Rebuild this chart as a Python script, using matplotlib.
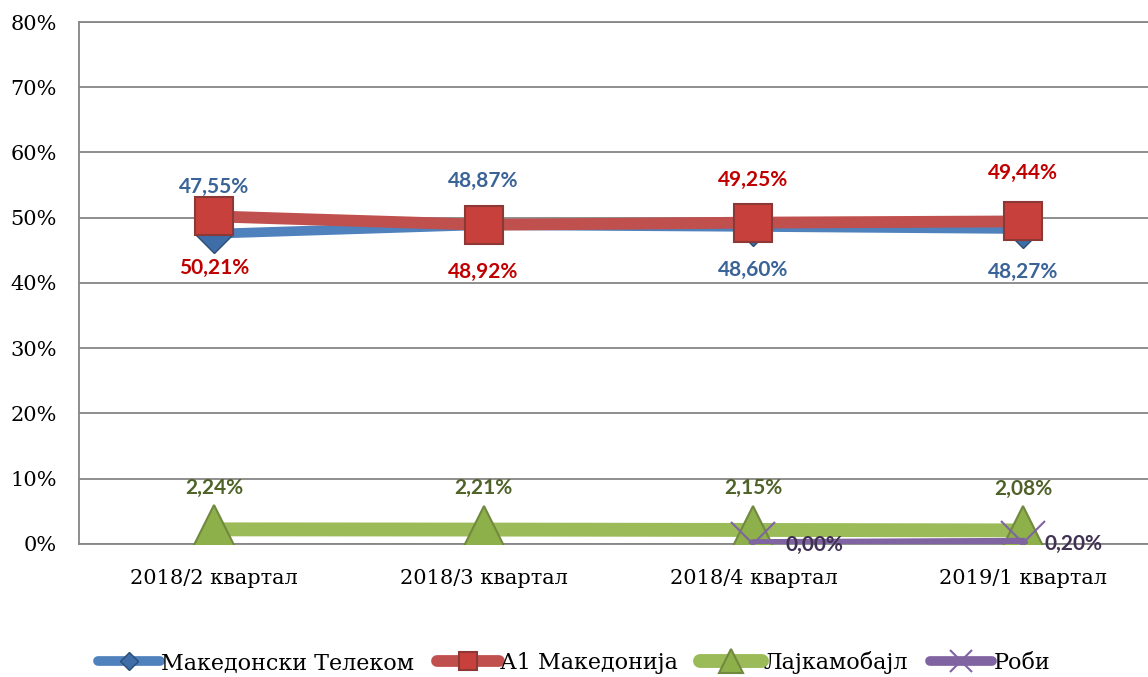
import matplotlib
matplotlib.use("Agg")
import matplotlib.pyplot as plt
from matplotlib.ticker import PercentFormatter

# data (percent)
quarters = ["2018/2 квартал", "2018/3 квартал", "2018/4 квартал", "2019/1 квартал"]
telekom = [47.55, 48.87, 48.60, 48.27]
a1 = [50.21, 48.92, 49.25, 49.44]
lyca = [2.24, 2.21, 2.15, 2.08]
robi_x = [2, 3]
robi = [0.00, 0.20]

names = ["Македонски Телеком", "А1 Македонија", "Лајкамобајл", "Роби"]

serif = "DejaVu Serif"
bold = "Lato"

fig = plt.figure(figsize=(11.48, 6.77), dpi=100)
ax = fig.add_axes([79 / 1148, 0.1965, 1079 / 1148, 0.771])

x = list(range(len(quarters)))

ax.plot(x, telekom, color="#4F81BD", lw=7, marker="D", ms=19,
        mfc="#3E6DA8", mec="#2C4D75", solid_capstyle="round", label=names[0], zorder=3)
ax.plot(x, a1, color="#C0504D", lw=8.5, marker="s", ms=27,
        mfc="#C8403C", mec="#8C3836", mew=1.5, solid_capstyle="round", label=names[1], zorder=4)
ax.plot(x, lyca, color="#9BBB59", lw=10, marker="^", ms=34,
        mfc="#8DB04A", mec="#71893F", mew=1.5, solid_capstyle="round", label=names[2], zorder=3)
ax.plot(robi_x, robi, color="#8064A2", lw=7, marker="x", ms=32, mew=1.5,
        mec="#8064A2", solid_capstyle="round", label=names[3], zorder=5)

# data labels
def lab(xv, yv, dx, dy, color):
    ax.annotate(f"{yv:.2f}%".replace(".", ","), (xv, yv), xytext=(dx, dy),
                textcoords="offset points", ha="center", va="center",
                fontsize=15, fontweight="bold", color=color, family=bold, zorder=6)

blue_off = [34, 32, -31, -31]
red_off = [-37, -34, 31, 35]
for i in x:
    lab(i, telekom[i], 0, blue_off[i], "#3A6397")
    lab(i, a1[i], 0, red_off[i], "#C00000")
    lab(i, lyca[i], 0, 30, "#4F6228")
robi_dx = [44, 36]
for xv, yv, dx in zip(robi_x, robi, robi_dx):
    lab(xv, yv, dx, -1, "#403152")

ax.set_xlim(-0.5, 3.5)
ax.set_ylim(0, 80)
ax.set_yticks(range(0, 81, 10))
ax.yaxis.set_major_formatter(PercentFormatter(decimals=0))
ax.set_xticks(x)
ax.set_xticklabels(quarters)
ax.tick_params(length=0, labelsize=15)
for t in ax.get_xticklabels() + ax.get_yticklabels():
    t.set_family(serif)
ax.tick_params(axis="x", pad=18)
ax.tick_params(axis="y", pad=16)
ax.grid(axis="y", color="#868686", lw=1.3)
ax.set_axisbelow(True)
for s in ax.spines.values():
    s.set_color("#868686")
    s.set_linewidth(1.3)

fig.legend(loc="lower center", bbox_to_anchor=(0.5, -0.025), ncol=4, frameon=False,
           prop={"family": serif, "size": 16}, handlelength=2.8, markerscale=0.5,
           columnspacing=1.0, handletextpad=0.05)

fig.savefig("out.png", dpi=100)
